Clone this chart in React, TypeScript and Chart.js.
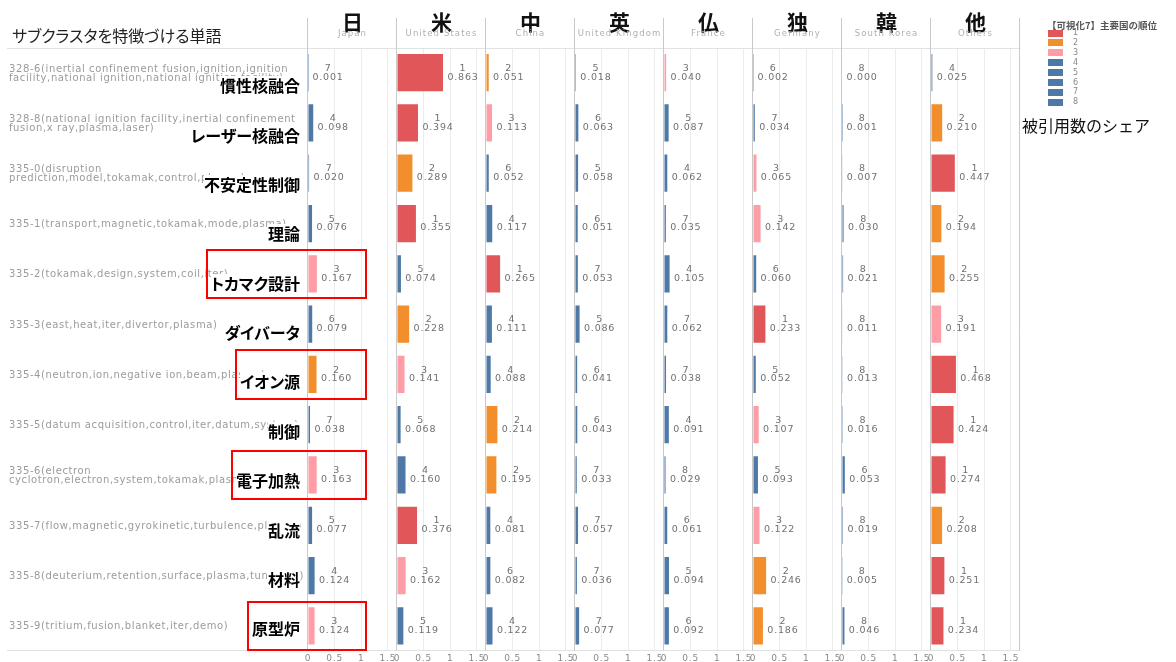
import React, { useEffect, useRef } from 'react';
import { Chart, registerables } from 'chart.js';

Chart.register(...registerables);

// ---------------- data ----------------
const rowDescriptions = [
  '328-6(inertial confinement fusion,ignition,ignition\nfacility,national ignition,national ignition facility)',
  '328-8(national ignition facility,inertial confinement\nfusion,x ray,plasma,laser)',
  '335-0(disruption\nprediction,model,tokamak,control,plasma)',
  '335-1(transport,magnetic,tokamak,mode,plasma)',
  '335-2(tokamak,design,system,coil,iter)',
  '335-3(east,heat,iter,divertor,plasma)',
  '335-4(neutron,ion,negative ion,beam,plasma)',
  '335-5(datum acquisition,control,iter,datum,system)',
  '335-6(electron\ncyclotron,electron,system,tokamak,plasma)',
  '335-7(flow,magnetic,gyrokinetic,turbulence,plasma)',
  '335-8(deuterium,retention,surface,plasma,tungsten)',
  '335-9(tritium,fusion,blanket,iter,demo)',
];
const rowTopics = ['慣性核融合', 'レーザー核融合', '不安定性制御', '理論', 'トカマク設計', 'ダイバータ', 'イオン源', '制御', '電子加熱', '乱流', '材料', '原型炉'];
const highlightedRows = [4, 6, 8, 11];

const countryKanji = ['日', '米', '中', '英', '仏', '独', '韓', '他'];
const countryNames = ['Japan', 'United States', 'China', 'United Kingdom', 'France', 'Germany', 'South Korea', 'Others'];

const japanShare = [0.001, 0.098, 0.020, 0.076, 0.167, 0.079, 0.160, 0.038, 0.163, 0.077, 0.124, 0.124];
const japanRank = [7, 4, 7, 5, 3, 6, 2, 7, 3, 5, 4, 3];
const usShare = [0.863, 0.394, 0.289, 0.355, 0.074, 0.228, 0.141, 0.068, 0.160, 0.376, 0.162, 0.119];
const usRank = [1, 1, 2, 1, 5, 2, 3, 5, 4, 1, 3, 5];
const chinaShare = [0.051, 0.113, 0.052, 0.117, 0.265, 0.111, 0.088, 0.214, 0.195, 0.081, 0.082, 0.122];
const chinaRank = [2, 3, 6, 4, 1, 4, 4, 2, 2, 4, 6, 4];
const ukShare = [0.018, 0.063, 0.058, 0.051, 0.053, 0.086, 0.041, 0.043, 0.033, 0.057, 0.036, 0.077];
const ukRank = [5, 6, 5, 6, 7, 5, 6, 6, 7, 7, 7, 7];
const franceShare = [0.040, 0.087, 0.062, 0.035, 0.105, 0.062, 0.038, 0.091, 0.029, 0.061, 0.094, 0.092];
const franceRank = [3, 5, 4, 7, 4, 7, 7, 4, 8, 6, 5, 6];
const germanyShare = [0.002, 0.034, 0.065, 0.142, 0.060, 0.233, 0.052, 0.107, 0.093, 0.122, 0.246, 0.186];
const germanyRank = [6, 7, 3, 3, 6, 1, 5, 3, 5, 3, 2, 2];
const koreaShare = [0.000, 0.001, 0.007, 0.030, 0.021, 0.011, 0.013, 0.016, 0.053, 0.019, 0.005, 0.046];
const koreaRank = [8, 8, 8, 8, 8, 8, 8, 8, 6, 8, 8, 8];
const othersShare = [0.025, 0.210, 0.447, 0.194, 0.255, 0.191, 0.468, 0.424, 0.274, 0.208, 0.251, 0.234];
const othersRank = [4, 2, 1, 2, 2, 3, 1, 1, 1, 2, 1, 1];

const tickValues = [0, 0.5, 1, 1.5];
const tickLabels = ['0', '0.5', '1', '1.5'];
const legendRanks = ['1', '2', '3', '4', '5', '6', '7', '8'];
const rankColors = ['#e15759', '#f28e2b', '#ff9da7', '#4e79a7', '#4e79a7', '#4e79a7', '#4e79a7', '#4e79a7'];

const legendTitle = '【可視化7】主要国の順位';
const chartTitle = 'サブクラスタを特徴づける単語';
const measureLabel = '被引用数のシェア';

// ---------------- layout ----------------
const W = 1176;
const H = 662;
const PANEL_LEFT = 308;
const PANEL_W = 89;
const N_PANEL = 8;
const PLOT_TOP = 47.5;
const PLOT_BOTTOM = 651;
const BAND = (PLOT_BOTTOM - PLOT_TOP) / rowTopics.length;
const AXIS_MAX = 1.67;
const CJK = '"Noto Sans CJK JP", "Noto Sans", sans-serif';
const LATIN = '"DejaVu Sans", sans-serif';

const cellPlugin = {
  id: 'cellPlugin',
  beforeDraw(chart: any) {
    chart.ctx.letterSpacing = '0.8px';
  },
  beforeDatasetsDraw(chart: any) {
    const ctx = chart.ctx;
    ctx.save();
    ctx.lineWidth = 1;
    ctx.strokeStyle = '#e2e2e2';
    const lastScale = chart.scales['x' + (N_PANEL - 1)];
    const right = Math.round(lastScale.right) + 0.5;
    const top = Math.round(chart.chartArea.top) + 0.5;
    const bottom = Math.round(chart.chartArea.bottom) - 0.5;
    ctx.beginPath();
    ctx.moveTo(7, top);
    ctx.lineTo(right, top);
    ctx.moveTo(7, bottom);
    ctx.lineTo(right, bottom);
    ctx.stroke();
    ctx.strokeStyle = '#c9c9c9';
    ctx.beginPath();
    for (let i = 0; i < N_PANEL; i++) {
      const x = Math.round(chart.scales['x' + i].left) - 0.5;
      ctx.moveTo(x, 18);
      ctx.lineTo(x, bottom);
    }
    ctx.moveTo(right - 1, 18);
    ctx.lineTo(right - 1, bottom);
    ctx.stroke();
    ctx.restore();
  },
  afterDatasetsDraw(chart: any) {
    const ctx = chart.ctx;
    const yScale = chart.scales.y;
    ctx.save();
    ctx.font = '9.5px ' + LATIN;
    ctx.fillStyle = '#707070';
    ctx.textAlign = 'center';
    ctx.textBaseline = 'middle';
    chart.data.datasets.forEach((ds: any, di: number) => {
      const xs = chart.scales['x' + di];
      ds.data.forEach((v: number, ri: number) => {
        const xe = xs.getPixelForValue(v);
        const yc = yScale.getPixelForValue(ri);
        ctx.fillText(String(ds.ranks[ri]), xe + 20, yc - 4.3);
        ctx.fillText(v.toFixed(3), xe + 20, yc + 4.5);
      });
    });
    ctx.restore();
  },
};

export default function App() {
  const canvasRef = useRef<HTMLCanvasElement>(null);

  useEffect(() => {
    const canvas = canvasRef.current;
    if (!canvas) return;
    const shares = [japanShare, usShare, chinaShare, ukShare, franceShare, germanyShare, koreaShare, othersShare];
    const ranks = [japanRank, usRank, chinaRank, ukRank, franceRank, germanyRank, koreaRank, othersRank];

    const scales: any = {
      y: { type: 'category', display: false, offset: true, grid: { display: false } },
    };
    shares.forEach((_, i) => {
      scales['x' + i] = {
        type: 'linear',
        position: 'bottom',
        stack: 'panels',
        stackWeight: 1,
        min: 0,
        max: AXIS_MAX,
        afterBuildTicks: (s: any) => {
          s.ticks = tickValues.map((v) => ({ value: v }));
        },
        afterFit: (s: any) => {
          s.height = 11;
        },
        ticks: {
          autoSkip: false,
          maxRotation: 0,
          padding: 2,
          color: '#8a8a8a',
          font: { family: 'DejaVu Sans', size: 9 },
          callback: (_v: any, idx: number) => tickLabels[idx],
        },
        grid: {
          color: (c: any) => (c.tick && c.tick.value === 0 ? 'rgba(0,0,0,0)' : '#ececec'),
          drawTicks: false,
          lineWidth: 1,
        },
        border: { display: false },
      };
    });

    const datasets = shares.map((data, i) => ({
      label: countryNames[i],
      data,
      ranks: ranks[i],
      xAxisID: 'x' + i,
      yAxisID: 'y',
      grouped: false,
      barPercentage: 0.74,
      categoryPercentage: 1,
      borderWidth: 0,
      backgroundColor: ranks[i].map((r) => rankColors[r - 1]),
    }));

    const chart = new Chart(canvas, {
      type: 'bar',
      data: { labels: rowDescriptions.map((d) => d.split('\n')[0]), datasets: datasets as any },
      options: {
        indexAxis: 'y',
        responsive: false,
        animation: false,
        events: [],
        layout: {
          padding: { left: PANEL_LEFT, right: W - PANEL_LEFT - N_PANEL * PANEL_W, top: PLOT_TOP, bottom: 0 },
        },
        plugins: { legend: { display: false }, tooltip: { enabled: false } },
        scales,
      } as any,
      plugins: [cellPlugin],
    });
    return () => chart.destroy();
  }, []);

  return (
    <div style={{ position: 'absolute', left: 0, top: 0, width: W, height: H, overflow: 'hidden', background: '#fff' }}>
      <canvas ref={canvasRef} width={W} height={H} style={{ position: 'absolute', left: 0, top: 0 }} />

      <div
        style={{
          position: 'absolute', left: 12, top: 25, lineHeight: '20px', fontSize: 16,
          fontFamily: CJK, color: '#222', fontFeatureSettings: '"palt"', whiteSpace: 'nowrap',
        }}
      >
        {chartTitle}
      </div>

      {countryKanji.map((k, i) => (
        <React.Fragment key={k}>
          <div
            style={{
              position: 'absolute', left: PANEL_LEFT + i * PANEL_W, top: 10, width: PANEL_W, textAlign: 'center',
              fontFamily: CJK, fontWeight: 700, fontSize: 21, lineHeight: '22px', color: '#111',
            }}
          >
            {k}
          </div>
          <div
            style={{
              position: 'absolute', left: PANEL_LEFT + i * PANEL_W, top: 28, width: PANEL_W, textAlign: 'center',
              fontFamily: LATIN, fontSize: 8.5, lineHeight: '10px', color: '#b0b0b0', letterSpacing: '1.1px',
              whiteSpace: 'nowrap',
            }}
          >
            {countryNames[i]}
          </div>
        </React.Fragment>
      ))}

      {rowDescriptions.map((d, r) => {
        const lines = d.split('\n');
        const yc = PLOT_TOP + BAND * (r + 0.5);
        return (
          <div
            key={'d' + r}
            style={{
              position: 'absolute', left: 9, top: yc - lines.length * 4.5, lineHeight: '9px', fontSize: 10,
              fontFamily: LATIN, color: '#9b9b9b', letterSpacing: '0.6px', whiteSpace: 'pre',
            }}
          >
            {d}
          </div>
        );
      })}

      {rowTopics.map((t, r) => {
        const hl = highlightedRows.includes(r);
        return (
          <div
            key={'t' + r}
            style={{
              position: 'absolute', right: W - 367, top: PLOT_TOP + BAND * r, height: BAND,
              boxSizing: 'border-box', border: '2px solid ' + (hl ? '#ff0000' : 'transparent'),
              padding: '0 65px 0 3px', display: 'flex', alignItems: 'center',
            }}
          >
            <span
              style={{
                position: 'relative', top: 12.5 - r * 0.9, background: '#fff', fontFamily: CJK, fontWeight: 700,
                fontSize: 16, lineHeight: '18px', color: '#000', fontFeatureSettings: '"palt"', whiteSpace: 'nowrap',
              }}
            >
              {t}
            </span>
          </div>
        );
      })}

      <div
        style={{
          position: 'absolute', left: 1047, top: 19, lineHeight: '12px', fontSize: 9.5, fontWeight: 700,
          fontFamily: CJK, color: '#555', whiteSpace: 'nowrap',
        }}
      >
        {legendTitle}
      </div>
      {legendRanks.map((lab, k) => (
        <React.Fragment key={'l' + k}>
          <div
            style={{
              position: 'absolute', left: 1048, top: 33 + k * 9.9 - 3.5, width: 15, height: 7,
              background: rankColors[k],
            }}
          />
          <div
            style={{
              position: 'absolute', left: 1073, top: 33 + k * 9.9 - 5, lineHeight: '10px', fontSize: 8,
              fontFamily: LATIN, color: '#888',
            }}
          >
            {lab}
          </div>
        </React.Fragment>
      ))}
      <div
        style={{
          position: 'absolute', left: 1022, top: 114, lineHeight: '22px', fontSize: 16,
          fontFamily: CJK, color: '#111', whiteSpace: 'nowrap',
        }}
      >
        {measureLabel}
      </div>
    </div>
  );
}
